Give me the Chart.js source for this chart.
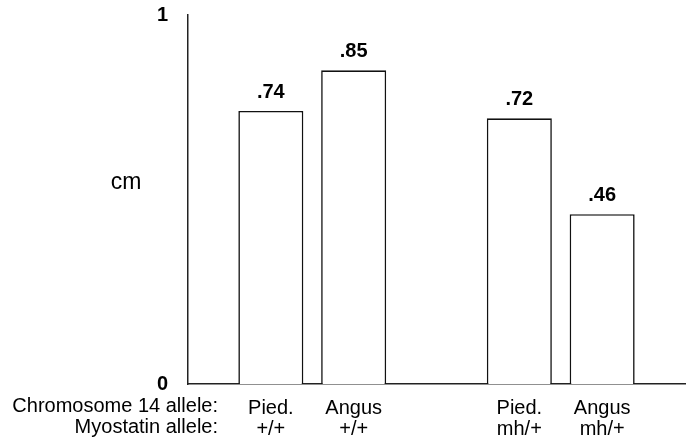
<!DOCTYPE html>
<html>
<head>
<meta charset="utf-8">
<script src="https://cdn.jsdelivr.net/npm/chart.js@4/dist/chart.umd.min.js"></script>
<style>
html,body{margin:0;padding:0;background:#fff;}
#wrap{width:692px;height:447px;position:relative;}
</style>
</head>
<body>
<div id="wrap"><canvas id="c" width="692" height="447"></canvas></div>
<script>
const chromosomeAlleles = ['Pied.', 'Angus', 'Pied.', 'Angus'];
const myostatinAlleles = ['+/+', '+/+', 'mh/+', 'mh/+'];
const values = [0.74, 0.85, 0.72, 0.46];
const slotOf = [1, 2, 4, 5];          // category slot of each bar (gap slots are empty)
const slotCount = 7;
const rowTitles = ['Chromosome 14 allele:', 'Myostatin allele:'];
const yTitle = 'cm';
const yTicks = [0, 1];

const FONT = '"Liberation Sans", Arial, Helvetica, sans-serif';

const labels = Array.from({length: slotCount}, () => '');
const data = Array.from({length: slotCount}, () => null);
slotOf.forEach((s, i) => { labels[s] = [chromosomeAlleles[i], myostatinAlleles[i]]; data[s] = values[i]; });

const annot = {
  id: 'annot',
  afterDatasetsDraw(chart) {
    const ctx = chart.ctx;
    const meta = chart.getDatasetMeta(0);
    ctx.save();
    ctx.fillStyle = '#000';
    ctx.font = 'bold 20px ' + FONT;
    ctx.textAlign = 'center';
    ctx.textBaseline = 'alphabetic';
    meta.data.forEach((bar, i) => {
      const v = data[i];
      if (v === null) return;
      ctx.fillText(v.toFixed(2).replace(/^0/, ''), bar.x, bar.y - 13);
    });
    const ys = chart.scales.y;
    ctx.font = '23px ' + FONT;
    ctx.textAlign = 'center';
    ctx.textBaseline = 'middle';
    ctx.fillText(yTitle, 126, ys.getPixelForValue(0.545));
    const xs = chart.scales.x;
    ctx.font = '20px ' + FONT;
    ctx.textAlign = 'right';
    ctx.textBaseline = 'middle';
    const x0 = xs.getPixelForValue(0) + 30;
    ctx.fillText(rowTitles[0], x0, xs.top + 22);
    ctx.fillText(rowTitles[1], x0, xs.top + 43);
    ctx.restore();
  }
};

new Chart(document.getElementById('c'), {
  type: 'bar',
  data: {
    labels: labels,
    datasets: [{
      data: data,
      backgroundColor: '#fff',
      borderColor: '#111',
      borderWidth: 1.6,
      categoryPercentage: 1,
      barPercentage: 0.785
    }]
  },
  options: {
    responsive: false,
    animation: false,
    events: [],
    layout: {padding: {top: 15, right: 7, left: 0, bottom: 0}},
    plugins: {legend: {display: false}, tooltip: {enabled: false}},
    scales: {
      x: {
        offset: false,
        grid: {display: false},
        border: {display: true, color: '#222', width: 1.5},
        ticks: {
          autoSkip: false, maxRotation: 0, minRotation: 0,
          color: '#000', padding: 6,
          font: {family: FONT, size: 20, lineHeight: 1.05}
        },
        afterFit(scale) { scale.height = 63; scale.paddingLeft = 0; scale.paddingRight = 0; }
      },
      y: {
        min: 0, max: 1,
        grid: {display: false},
        border: {display: true, color: '#222', width: 1.5},
        afterBuildTicks(scale) { scale.ticks = yTicks.map(v => ({value: v})); },
        ticks: {
          color: '#000', padding: 12,
          font: {family: FONT, size: 20, weight: 'bold'}
        },
        afterFit(scale) { scale.width = 188; scale.paddingTop = 0; scale.paddingBottom = 0; }
      }
    }
  },
  plugins: [annot]
});
</script>
</body>
</html>
